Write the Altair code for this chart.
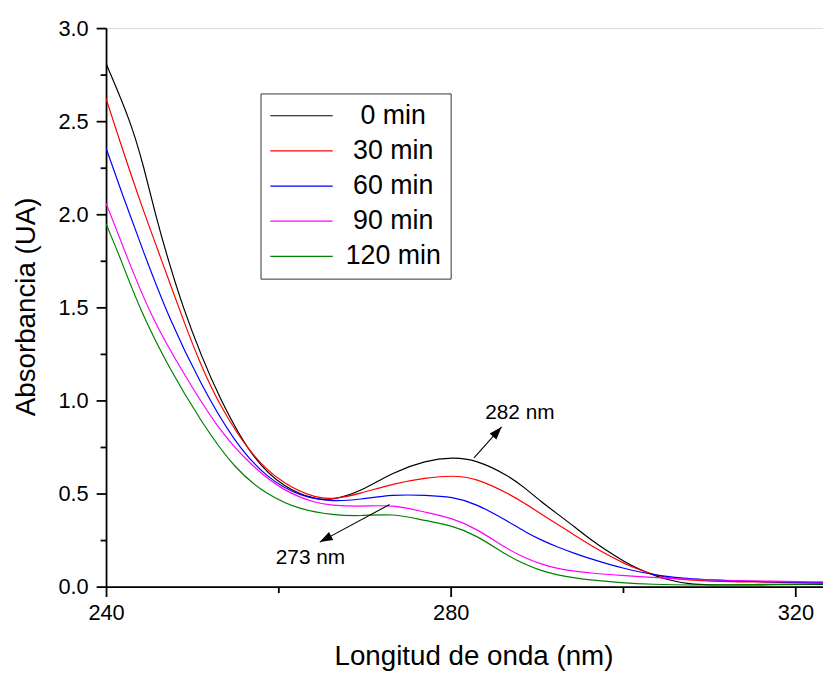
import altair as alt
import pandas as pd

# ---------------- data ----------------
series_names = ["0 min", "30 min", "60 min", "90 min", "120 min"]
series_colors = ["#000000", "#FF0000", "#0000FF", "#FF00FF", "#008000"]

bk_x = [240.0, 242.9, 244.4, 245.7, 247.2, 249.0, 251.1, 253.0, 256.8, 260.7, 264.5, 266.5, 269.5,
        273.3, 277.1, 280.2, 282.9, 286.7, 288.6, 290.5, 292.4, 294.4, 296.3, 298.2, 300.1, 302.0,
        303.9, 305.8, 307.7, 309.6, 315.1, 323.2]
bk_y = [2.81, 2.495, 2.252, 2.004, 1.755, 1.49, 1.235, 1.03, 0.695, 0.527, 0.464, 0.468, 0.509,
        0.615, 0.677, 0.695, 0.682, 0.597, 0.53, 0.456, 0.39, 0.32, 0.25, 0.19, 0.135, 0.09,
        0.055, 0.03, 0.014, 0.008, 0.009, 0.012]

rd_x = [240.0, 241.5, 244.2, 246.4, 249.2, 251.1, 253.0, 256.8, 260.7, 264.5, 266.5, 269.5, 273.3,
        277.1, 280.2, 282.9, 286.7, 288.6, 290.5, 292.4, 294.4, 296.3, 298.2, 300.1, 302.0, 303.9,
        305.8, 309.3, 315.1, 323.2]
rd_y = [2.622, 2.406, 2.034, 1.76, 1.40, 1.18, 0.988, 0.704, 0.544, 0.473, 0.470, 0.500, 0.553,
        0.584, 0.597, 0.584, 0.500, 0.447, 0.39, 0.335, 0.275, 0.22, 0.17, 0.125, 0.088, 0.06,
        0.042, 0.030, 0.025, 0.018]

bl_x = [240.0, 241.9, 244.3, 247.3, 251.1, 254.9, 258.7, 262.6, 266.4, 269.4, 273.3, 277.1, 280.2,
        282.9, 286.7, 288.6, 290.5, 292.4, 294.4, 296.3, 298.2, 300.1, 302.0, 303.9, 307.4, 315.1,
        323.2]
bl_y = [2.356, 2.105, 1.803, 1.44, 1.076, 0.775, 0.580, 0.482, 0.456, 0.468, 0.495, 0.491, 0.482,
        0.447, 0.349, 0.295, 0.25, 0.212, 0.178, 0.148, 0.122, 0.098, 0.078, 0.061, 0.04, 0.027,
        0.021]

mg_x = [240.0, 242.3, 245.3, 249.2, 253.0, 256.8, 260.7, 264.5, 266.0, 269.3, 273.3, 277.1, 280.2,
        282.9, 286.7, 288.6, 290.5, 292.4, 294.4, 296.3, 299.7, 303.6, 309.3, 315.1, 323.2]
mg_y = [2.060, 1.786, 1.44, 1.129, 0.846, 0.651, 0.509, 0.447, 0.438, 0.429, 0.441, 0.399, 0.367,
        0.314, 0.198, 0.155, 0.12, 0.097, 0.082, 0.072, 0.060, 0.048, 0.036, 0.030, 0.025]

gr_x = [240.0, 241.8, 243.8, 247.2, 251.1, 254.9, 258.7, 262.6, 266.4, 269.3, 273.3, 277.1, 280.2,
        282.9, 286.7, 288.6, 290.5, 292.4, 294.4, 296.3, 299.7, 303.6, 307.4, 315.1, 323.2]
gr_y = [1.948, 1.75, 1.502, 1.182, 0.881, 0.633, 0.491, 0.411, 0.385, 0.378, 0.394, 0.353, 0.328,
        0.278, 0.163, 0.12, 0.085, 0.062, 0.046, 0.035, 0.021, 0.012, 0.007, 0.012, 0.014]

# annotations (data coordinates)
ann_text = ["282 nm", "273 nm"]
ann_text_x = [284.0, 259.7]
ann_text_y = [0.899, 0.119]
arrow_x0 = [282.7, 272.9]
arrow_y0 = [0.691, 0.441]
arrow_x1 = [285.9, 264.8]
arrow_y1 = [0.858, 0.239]
arrow_angle = [41.5, 241.7]

x_ticks = [240, 260, 280, 300, 320]
y_ticks = [0, 0.25, 0.5, 0.75, 1.0, 1.25, 1.5, 1.75, 2.0, 2.25, 2.5, 2.75, 3.0]

# ---------------- build tables ----------------
xs = [bk_x, rd_x, bl_x, mg_x, gr_x]
ys = [bk_y, rd_y, bl_y, mg_y, gr_y]
rows = []
for name, lx, ly in zip(series_names, xs, ys):
    for a, b in zip(lx, ly):
        rows.append({"wl": a, "abs": b, "serie": name})
df = pd.DataFrame(rows)

ann_df = pd.DataFrame({"t": ann_text, "x": ann_text_x, "y": ann_text_y})
arr_df = pd.DataFrame({"x0": arrow_x0, "y0": arrow_y0, "x1": arrow_x1, "y1": arrow_y1,
                       "ang": arrow_angle})

FONT = "Liberation Sans"

x_scale = alt.Scale(domain=[240, 323.2], nice=False, zero=False)
y_scale = alt.Scale(domain=[0, 3.0], nice=False, zero=False)

x_axis = alt.Axis(
    values=x_ticks,
    labelExpr="datum.value % 40 === 0 ? datum.label : ''",
    format="d",
    labelFlush=False,
    title="Longitud de onda (nm)",
    grid=False,
    domainColor="black", domainWidth=1.8,
    tickColor="black", tickWidth=1.8,
    tickSize={"condition": {"test": "datum.value % 40 !== 0", "value": 6}, "value": 10},
    labelFont=FONT, labelFontSize=22, labelColor="black", labelPadding=6,
    titleFont=FONT, titleFontSize=28, titleFontWeight="normal", titleColor="black",
    titleX=371, titleY=79, titleBaseline="alphabetic", titleAlign="center",
)
y_axis = alt.Axis(
    values=y_ticks,
    labelExpr="datum.value % 0.5 === 0 ? format(datum.value, '.1f') : ''",
    labelFlush=False,
    title="Absorbancia (UA)",
    grid=False,
    domainColor="black", domainWidth=1.8,
    tickColor="black", tickWidth=1.8,
    tickSize={"condition": {"test": "datum.value % 0.5 !== 0", "value": 6}, "value": 10},
    labelFont=FONT, labelFontSize=22, labelColor="black", labelPadding=8,
    titleFont=FONT, titleFontSize=28, titleFontWeight="normal", titleColor="black",
    titleX=-72, titleY=281, titleAngle=270, titleBaseline="alphabetic", titleAlign="center",
)

lines = alt.Chart(df).mark_line(strokeWidth=1.2, interpolate="basis", clip=True).encode(
    x=alt.X("wl:Q", scale=x_scale, axis=x_axis),
    y=alt.Y("abs:Q", scale=y_scale, axis=y_axis),
    color=alt.Color(
        "serie:N",
        scale=alt.Scale(domain=series_names, range=series_colors),
        sort=series_names,
        legend=alt.Legend(
            title=None, orient="none", legendX=156, legendY=66,
            strokeColor="#333333", fillColor="white", padding=9,
            symbolType="M-1,0L4,0", symbolSize=635, symbolStrokeWidth=1.2,
            labelFont=FONT, labelFontSize=27, labelColor="black",
            labelAlign="center", labelOffset=98, rowPadding=7.5,
        ),
    ),
    detail="serie:N",
)

arrow_lines = alt.Chart(arr_df).mark_rule(color="black", strokeWidth=1.1).encode(
    x="x0:Q", y="y0:Q", x2="x1:Q", y2="y1:Q"
)
arrow_heads = alt.Chart(arr_df).mark_point(
    shape="M0,0 L-0.7,2 L0.7,2 Z", filled=True, color="black", opacity=1, size=169
).encode(
    x="x1:Q", y="y1:Q", angle=alt.Angle("ang:Q", scale=None)
)
ann_texts = alt.Chart(ann_df).mark_text(
    align="left", baseline="alphabetic", font=FONT, fontSize=21, color="black"
).encode(x="x:Q", y="y:Q", text="t:N")

chart = alt.layer(lines, arrow_lines, arrow_heads, ann_texts).properties(
    width=724, height=564,
    autosize=alt.AutoSizeParams(type="none"),
    padding={"left": 99, "top": 17, "right": 0, "bottom": 90},
).configure_view(stroke=None).configure(background="white")

chart.save("out.html", embed_options={"renderer": "svg", "actions": False})
